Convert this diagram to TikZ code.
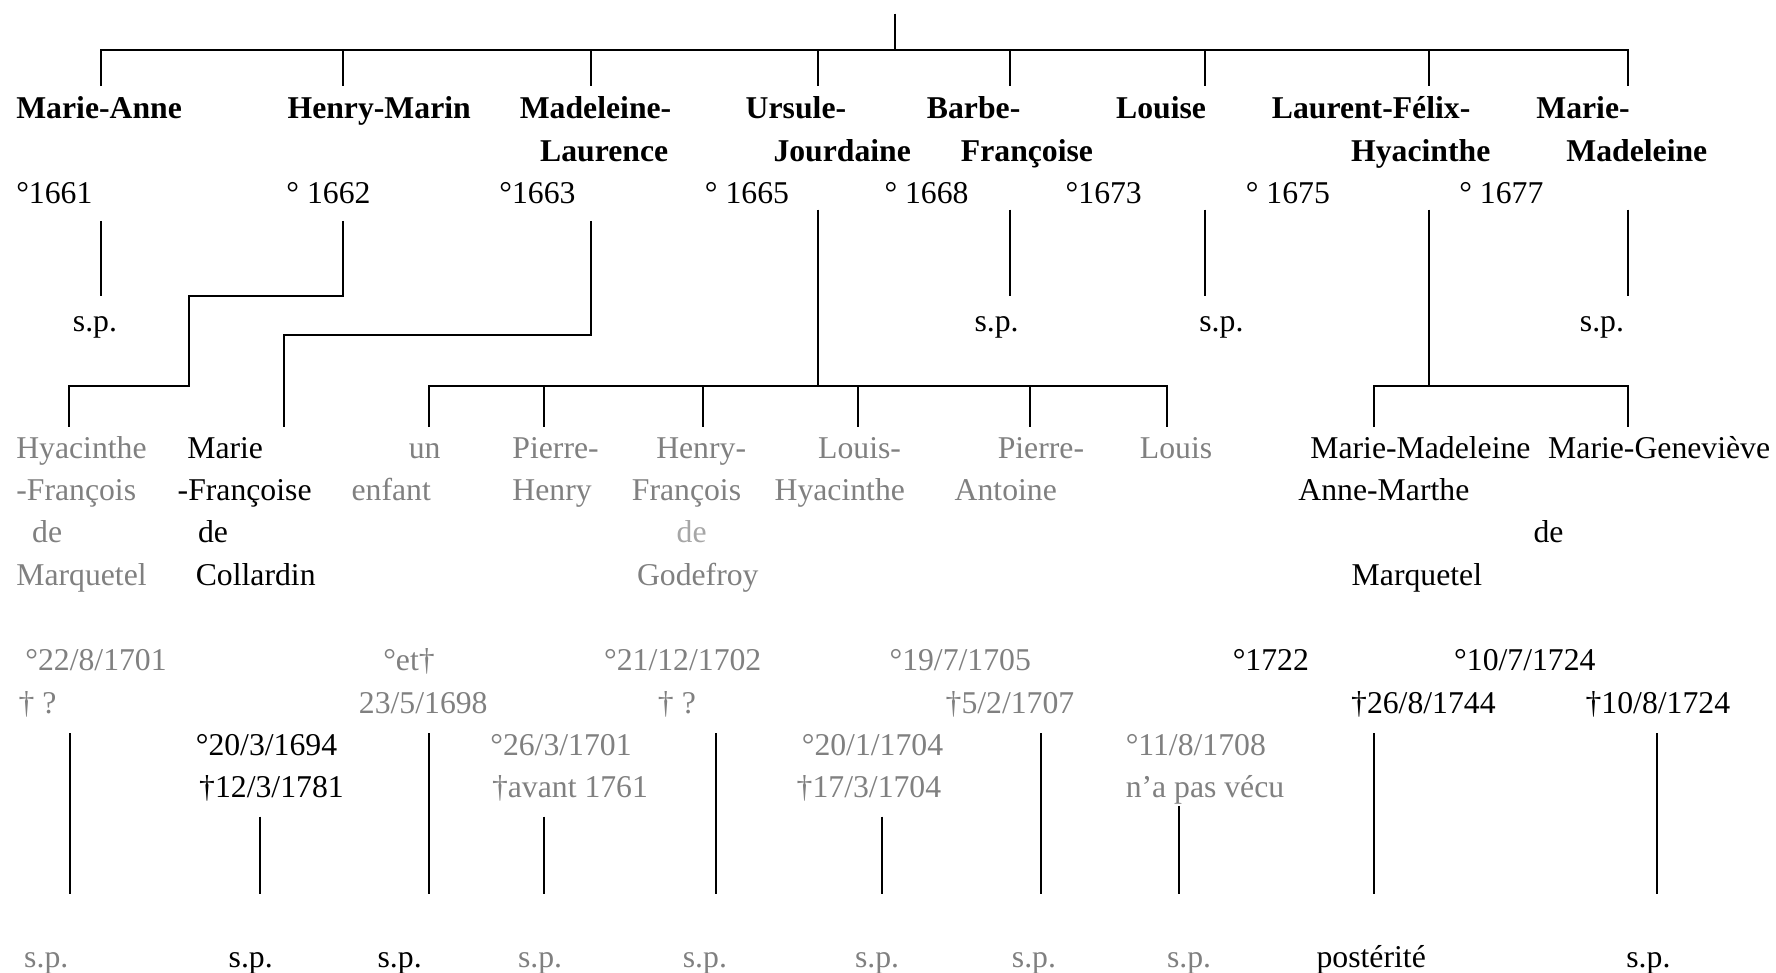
\documentclass[tikz,border=0pt]{standalone}
\usepackage{fontspec}
\setmainfont{Liberation Serif}
\tikzset{
	link/.style = {line width=0.9pt}, % the family lines
	txt/.style = {anchor=base west, inner sep=0pt, yshift=-1pt, font=\fontsize{14}{17}\selectfont},
	elder/.style = {txt, font=\fontsize{14}{17}\selectfont\bfseries},
	dim/.style = {txt, text=gray}, % children who died young are in gray
	faint/.style = {txt, text=black!35}
}

\begin{document}
\begin{tikzpicture}[x=0.5pt, y=-0.5pt]
\useasboundingbox (0,0) rectangle (1568,859);
% first generation
\node[elder] (ma) at (14,103) {Marie-Anne};
\node[elder] (hm) at (253.5,103) {Henry-Marin};
\node[elder] (ml) at (458.5,103) {Madeleine-};
\node[elder] (ml2) at (476.5,141) {Laurence};
\node[elder] (uj) at (658,103) {Ursule-};
\node[elder] (uj2) at (682.5,141) {Jourdaine};
\node[elder] (bf) at (818,103) {Barbe-};
\node[elder] (bf2) at (848,141) {Françoise};
\node[elder] (lo) at (985,103) {Louise};
\node[elder] (lf) at (1122.5,103) {Laurent-Félix-};
\node[elder] (lf2) at (1192.5,141) {Hyacinthe};
\node[elder] (md) at (1356,103) {Marie-};
\node[elder] (md2) at (1382.5,141) {Madeleine};
\node[txt] (may) at (14,178) {°1661};
\node[txt] (hmy) at (252.5,178) {° 1662};
\node[txt] (mly) at (440.5,178) {°1663};
\node[txt] (ujy) at (622,178) {° 1665};
\node[txt] (bfy) at (780.5,178) {° 1668};
\node[txt] (loy) at (940.5,178) {°1673};
\node[txt] (lfy) at (1099.5,178) {° 1675};
\node[txt] (mdy) at (1288,178) {° 1677};
\node[txt] (masp) at (64,291) {s.p.};
\node[txt] (bfsp) at (860,291) {s.p.};
\node[txt] (losp) at (1058.5,291) {s.p.};
\node[txt] (mdsp) at (1394.5,291) {s.p.};
% second generation
\node[dim] (hf1) at (14,403) {Hyacinthe};
\node[dim] (hf2) at (14,440) {-François};
\node[dim] (hf3) at (28,477) {de};
\node[dim] (hf4) at (14,515) {Marquetel};
\node[txt] (mf1) at (165,403) {Marie};
\node[txt] (mf2) at (156.5,440) {-Françoise};
\node[txt] (mf3) at (174.5,477) {de};
\node[txt] (mf4) at (172.5,515) {Collardin};
\node[dim] (ue1) at (360.5,403) {un};
\node[dim] (ue2) at (310,440) {enfant};
\node[dim] (ph1) at (452,403) {Pierre-};
\node[dim] (ph2) at (452,440) {Henry};
\node[dim] (hy1) at (579,403) {Henry-};
\node[dim] (hy2) at (557.5,440) {François};
\node[faint] (hy3) at (597,477) {de};
\node[dim] (hy4) at (562,515) {Godefroy};
\node[dim] (lh1) at (722,403) {Louis-};
\node[dim] (lh2) at (683.5,440) {Hyacinthe};
\node[dim] (pa1) at (880.5,403) {Pierre-};
\node[dim] (pa2) at (842.5,440) {Antoine};
\node[dim] (lu1) at (1006,403) {Louis};
\node[txt] (mm1) at (1156.5,403) {Marie-Madeleine};
\node[txt] (mg1) at (1366.5,403) {Marie-Geneviève};
\node[txt] (mm2) at (1146,440) {Anne-Marthe};
\node[txt] (mg2) at (1353.5,477) {de};
\node[txt] (mm3) at (1193,515) {Marquetel};
% dates
\node[dim] (hf5) at (22,590) {°22/8/1701};
\node[dim] (hf6) at (16,627.5) {† ?};
\node[txt] (mf5) at (172.5,665) {°20/3/1694};
\node[txt] (mf6) at (175.5,702) {†12/3/1781};
\node[dim] (ue3) at (338,590) {°et†};
\node[dim] (ue4) at (316.5,627.5) {23/5/1698};
\node[dim] (ph3) at (432.5,665) {°26/3/1701};
\node[dim] (ph4) at (434,702) {†avant 1761};
\node[dim] (hy5) at (533,590) {°21/12/1702};
\node[dim] (hy6) at (580.5,627.5) {† ?};
\node[dim] (lh3) at (707.5,665) {°20/1/1704};
\node[dim] (lh4) at (703,702) {†17/3/1704};
\node[dim] (pa3) at (785,590) {°19/7/1705};
\node[dim] (pa4) at (834.5,627.5) {†5/2/1707};
\node[dim] (lu2) at (993.5,665) {°11/8/1708};
\node[dim] (lu3) at (993.5,702) {n’a pas vécu};
\node[txt] (mm4) at (1088,590) {°1722};
\node[txt] (mg3) at (1283.5,590) {°10/7/1724};
\node[txt] (mm5) at (1192.5,627.5) {†26/8/1744};
\node[txt] (mg4) at (1399.5,627.5) {†10/8/1724};
\node[dim] (hfsp) at (21,852) {s.p.};
\node[txt] (mfsp) at (201.5,852) {s.p.};
\node[txt] (uesp) at (333,852) {s.p.};
\node[dim] (phsp) at (457,852) {s.p.};
\node[dim] (hysp) at (602.5,852) {s.p.};
\node[dim] (lhsp) at (754.5,852) {s.p.};
\node[dim] (pasp) at (893,852) {s.p.};
\node[dim] (lusp) at (1030,852) {s.p.};
\node[txt] (mmsp) at (1162,852) {postérité};
\node[txt] (mgsp) at (1435.5,852) {s.p.};
% lines of the first generation
\coordinate (root) at (790.5,12);
\coordinate (bar) at (790.5,44);
\foreach \c/\x in {ma/89, hm/303, ml/521.5, uj/722, bf/891.5, lo/1063.5, lf/1262, md/1437.5}{
	\coordinate (t\c) at (\x,76);
	\draw[link] (bar -| t\c) -- (t\c);
}
\draw[link] (root) -- (bar);
\draw[link] (tma) |- (bar) -| (tmd);
\foreach \c/\x/\y in {ma/89/195, bf/891.5/185, lo/1063.5/185, md/1437.5/185}{
	\coordinate (a\c) at (\x,\y);
	\coordinate (b\c) at (\x,261);
	\draw[link] (a\c) -- (b\c);
}
\coordinate (ahm) at (303,195);
\coordinate (bhm) at (166.5,261);
\coordinate (chm) at (61,341);
\coordinate (thf) at (61,377);
\draw[link] (ahm) |- (bhm) |- (chm) -- (thf);
\coordinate (aml) at (521.5,195);
\coordinate (bml) at (250.5,296);
\coordinate (tmf) at (250.5,377);
\draw[link] (aml) |- (bml) -- (tmf);
\coordinate (auj) at (722,185);
\coordinate (buj) at (722,341);
\coordinate (alf) at (1262,185);
\coordinate (blf) at (1262,341);
\draw[link] (auj) -- (buj);
\draw[link] (alf) -- (blf);
% lines of the second generation
\foreach \c/\x in {ue/379, ph/480.5, hy/621, lh/757.5, pa/909, lu/1030}{
	\coordinate (t\c) at (\x,377);
	\draw[link] (t\c |- buj) -- (t\c);
}
\draw[link] (tue) |- (buj) -| (tlu);
\coordinate (tmm) at (1213,377);
\coordinate (tmg) at (1437.5,377);
\draw[link] (tmm) |- (blf) -| (tmg);
\foreach \c/\x/\y in {hf/61.5/647.5, mf/229.5/721, ue/379/647.5, ph/480.5/721, hy/632.5/647.5, lh/779/721, pa/919/647.5, lu/1041/711.5, mm/1213/647.5, mg/1463/647.5}{
	\coordinate (a\c) at (\x,\y);
	\coordinate (b\c) at (\x,789);
	\draw[link] (a\c) -- (b\c);
}
\end{tikzpicture}
\end{document}
